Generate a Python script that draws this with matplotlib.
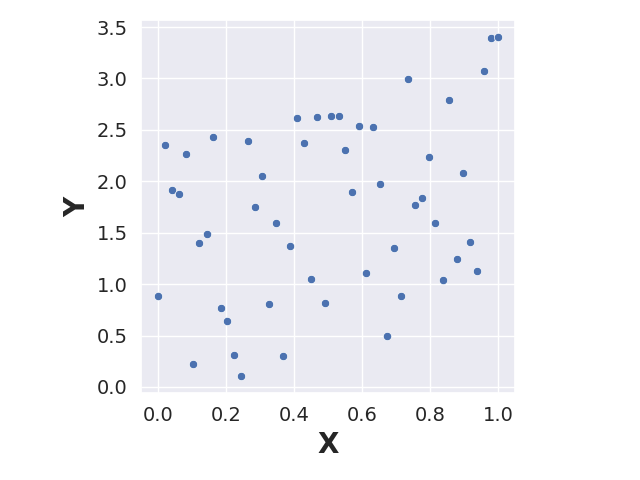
import matplotlib
matplotlib.use("Agg")
import matplotlib.pyplot as plt
import seaborn as sns

# x values: 50 evenly spaced points (0 .. 1)
x = [0.000, 0.020, 0.041, 0.061, 0.082, 0.102, 0.122, 0.143, 0.163, 0.184,
     0.204, 0.224, 0.245, 0.265, 0.286, 0.306, 0.327, 0.347, 0.367, 0.388,
     0.408, 0.429, 0.449, 0.469, 0.490, 0.510, 0.531, 0.551, 0.571, 0.592,
     0.612, 0.633, 0.653, 0.673, 0.694, 0.714, 0.735, 0.755, 0.776, 0.796,
     0.816, 0.837, 0.857, 0.878, 0.898, 0.918, 0.939, 0.959, 0.980, 1.000]

y = [0.887, 2.353, 1.919, 1.880, 2.266, 0.222, 1.398, 1.485, 2.430, 0.771,
     0.646, 0.309, 0.106, 2.392, 1.755, 2.054, 0.810, 1.591, 0.299, 1.369,
     2.613, 2.372, 1.051, 2.623, 0.820, 2.633, 2.633, 2.305, 1.900, 2.536,
     1.109, 2.527, 1.977, 0.492, 1.350, 0.887, 2.999, 1.765, 1.842, 2.237,
     1.591, 1.041, 2.787, 1.244, 2.083, 1.408, 1.128, 3.076, 3.394, 3.404]

sns.set_theme(style="darkgrid", font_scale=1.2)

fig = plt.figure(figsize=(6.4, 4.8), dpi=100)
ax = fig.add_axes([141/640, 87/480, 374/640, 373/480])

sns.scatterplot(x=x, y=y, ax=ax, color="#4C72B0")

ax.set_xlabel("X", fontsize=20, fontweight="bold")
ax.set_ylabel("Y", fontsize=20, fontweight="bold")
ax.set_xticks([0.0, 0.2, 0.4, 0.6, 0.8, 1.0])
ax.set_yticks([0.0, 0.5, 1.0, 1.5, 2.0, 2.5, 3.0, 3.5])
ax.tick_params(labelsize=14)

plt.savefig("out.png", dpi=100)
